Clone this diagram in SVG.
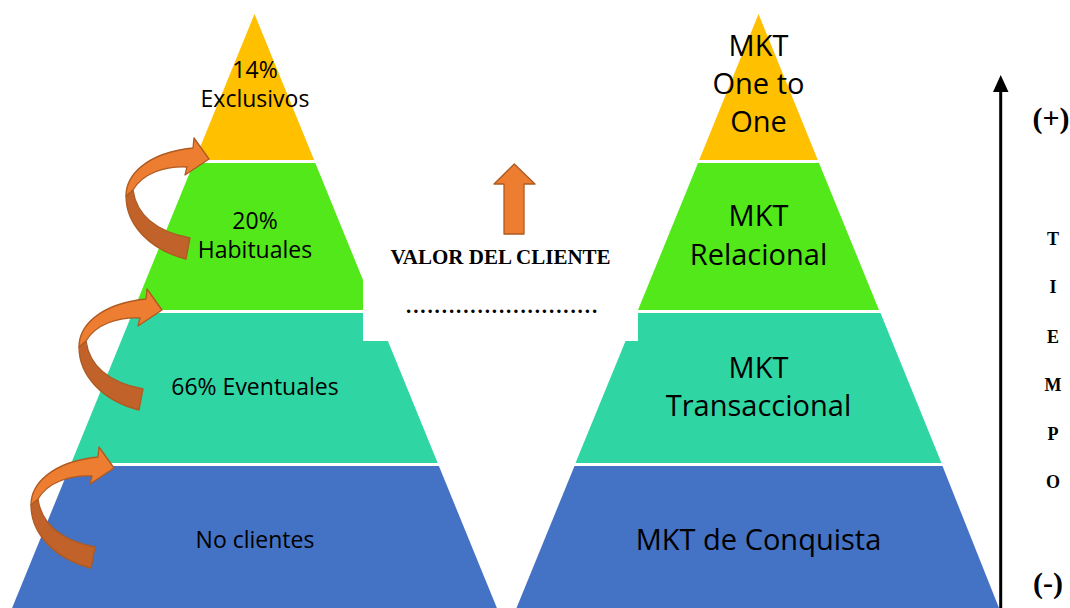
<svg xmlns="http://www.w3.org/2000/svg" width="1070" height="608" viewBox="0 0 1070 608">
<defs>
<style>
.yel{fill:#FFC000}
.grn{fill:#52E81A}
.tea{fill:#2FD6A3}
.blu{fill:#4472C4}
.lt{font-family:"Open Sans","Noto Sans",sans-serif;font-size:23px;fill:#000;text-anchor:middle}
.rt{font-family:"Open Sans","Noto Sans",sans-serif;font-size:29px;fill:#000;text-anchor:middle}
.sf{font-family:"Liberation Serif","Times New Roman",serif;font-weight:bold;fill:#000}
.front{fill:#ED7D31;stroke:#AE5A21;stroke-width:1.3;stroke-linejoin:round}
.back{fill:#C0622A;stroke:#AE5A21;stroke-width:1.3;stroke-linejoin:round}
</style>
<g id="curvedArrow">
<path class="back" d="M126,196 C126,225 150,250 186,259 L190,238 C160,232 137,218 133,190 Z"/>
<path class="front" d="M126,196 C126,176 145,153 193,148 L194,138 L209,159 L185,175 L187,167 C165,166 143,173 133,190 Z"/>
</g>
</defs>
<rect width="1070" height="608" fill="#fff"/>

<g id="left-pyramid">
<g id="l-exclusivos">
<polygon class="yel" points="254.5,14 314.1,160 194.9,160"/>
<text class="lt" x="255" y="78">14%</text>
<text class="lt" x="255" y="107">Exclusivos</text>
</g>
<g id="l-habituales">
<polygon class="grn" points="193.7,163 315.3,163 375.3,310 133.7,310"/>
<text class="lt" x="255" y="229">20%</text>
<text class="lt" x="255" y="258">Habituales</text>
</g>
<g id="l-eventuales">
<polygon class="tea" points="132.5,313 376.5,313 437.7,463 71.3,463"/>
<text class="lt" x="255" y="395">66% Eventuales</text>
</g>
<g id="l-noclientes">
<polygon class="blu" points="70.1,466 438.9,466 496.9,608 12.1,608"/>
<text class="lt" x="255" y="548">No clientes</text>
</g>
</g>

<g id="right-pyramid">
<g id="r-onetoone">
<polygon class="yel" points="758.5,14 817.8,160 699.2,160"/>
<text class="rt" x="758.5" y="56">MKT</text>
<text class="rt" x="758.5" y="94">One to</text>
<text class="rt" x="758.5" y="132">One</text>
</g>
<g id="r-relacional">
<polygon class="grn" points="698,163 819,163 879,310 638,310"/>
<text class="rt" x="758.5" y="226">MKT</text>
<text class="rt" x="758.5" y="265">Relacional</text>
</g>
<g id="r-transaccional">
<polygon class="tea" points="637,313 880.5,313 941.5,463 575.5,463"/>
<text class="rt" x="758.5" y="378">MKT</text>
<text class="rt" x="758.5" y="416">Transaccional</text>
</g>
<g id="r-conquista">
<polygon class="blu" points="574.5,466 942.5,466 999,608 516.5,608"/>
<text class="rt" x="758.5" y="550">MKT de Conquista</text>
</g>
</g>

<rect id="center-mask" x="363" y="268" width="275" height="73" fill="#fff"/>

<g id="valor-cliente">
<text class="sf" x="500.5" y="264" font-size="21" text-anchor="middle">VALOR DEL CLIENTE</text>
<text class="sf" x="406" y="313" font-size="21" letter-spacing="1.9">...........................</text>
</g>

<g id="tiempo-label">
<text class="sf" x="1051" y="128" font-size="30" text-anchor="middle">(+)</text>
<text class="sf" x="1048" y="593" font-size="30" text-anchor="middle">(-)</text>
<g font-size="18" text-anchor="middle">
<text class="sf" x="1053" y="245">T</text>
<text class="sf" x="1053" y="293">I</text>
<text class="sf" x="1053" y="343">E</text>
<text class="sf" x="1053" y="391">M</text>
<text class="sf" x="1053" y="440">P</text>
<text class="sf" x="1053" y="488">O</text>
</g>
</g>

<g id="connectors">
<use href="#curvedArrow"/>
<use href="#curvedArrow" transform="translate(-47,151)"/>
<use href="#curvedArrow" transform="translate(-95,309)"/>
<polygon class="front" points="514.3,164 535,184 524,184 524,234 504,234 504,184 494,184"/>
<line x1="1000.7" y1="88" x2="1000.7" y2="608" stroke="#000" stroke-width="3"/>
<polygon points="1000.7,75 1008.5,92 993,92" fill="#000"/>
</g>
</svg>
